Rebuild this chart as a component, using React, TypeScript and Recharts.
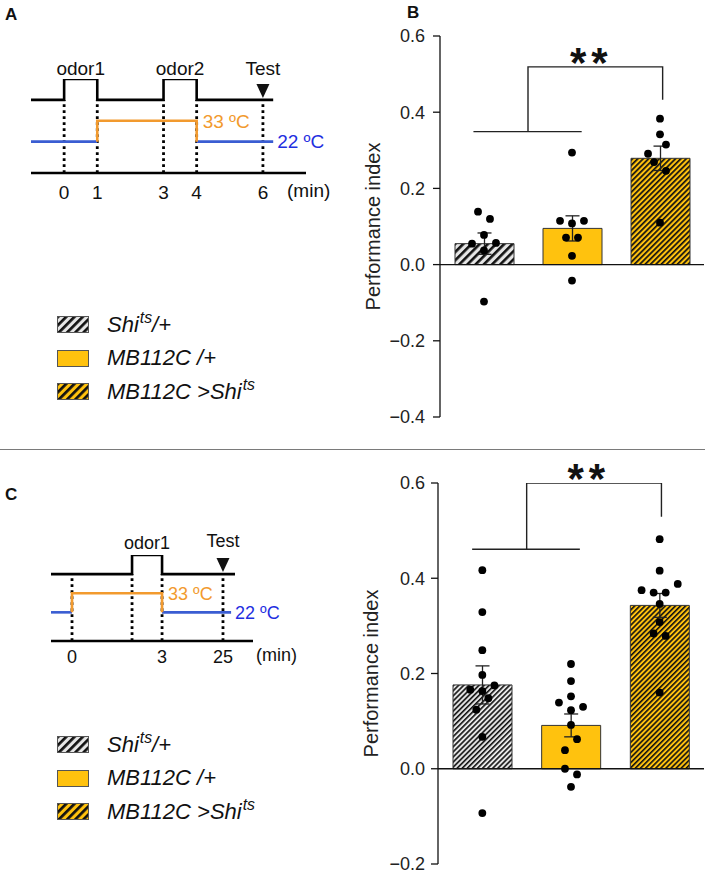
import React from 'react';
import {
  ComposedChart, LineChart, Line, Bar, Cell, ErrorBar, Scatter, XAxis, YAxis,
  ReferenceLine, ReferenceDot, Label, Legend,
} from 'recharts';

const FONT = '"Liberation Sans", Arial, Helvetica, sans-serif';
const GOLD = '#FFC20E';
const GREY = '#e6e6e6';
const HOT = '#F29A2E';
const COLD_LINE = '#3A5DD2';
const COLD_TEXT = '#1f2fe0';

// genotypes (legend + bar order); "^ts" is drawn as superscript
const genotypes = ['Shi^ts/+', 'MB112C /+', 'MB112C >Shi^ts'];

// ---- panel B ----
const meansB = [0.055, 0.095, 0.279];
const semB = [0.028, 0.033, 0.032];
const pointsB = [
  [0.139, 0.12, 0.078, 0.057, 0.055, 0.037, -0.097],
  [0.294, 0.115, 0.115, 0.108, 0.071, 0.071, 0.023, -0.042],
  [0.383, 0.342, 0.315, 0.291, 0.269, 0.246, 0.11],
];
// horizontal jitter, in dot steps
const jitterB = [
  [-1, 1, 0, 2, -2, 0, 0],
  [0, -2, 2, 0, -1, 1, 0, 0],
  [0, 0, 1, -2, -1, 1, 0],
];
const ticksB = [-0.4, -0.2, 0, 0.2, 0.4, 0.6];
const bracketB = { left: -0.12, right: 1.11, stem: 0.5, end: 2.03, low: 0.349, top: 0.519, endLow: 0.433, star: 1.22 };

// ---- panel C ----
const meansC = [0.176, 0.091, 0.343];
const semC = [0.04, 0.024, 0.025];
const pointsC = [
  [0.417, 0.329, 0.249, 0.197, 0.166, 0.175, 0.163, 0.148, 0.124, 0.067, -0.093],
  [0.22, 0.184, 0.152, 0.139, 0.13, 0.123, 0.092, 0.062, 0.039, 0.0, -0.012, -0.038],
  [0.482, 0.416, 0.388, 0.375, 0.37, 0.37, 0.346, 0.308, 0.284, 0.279, 0.16],
];
const jitterC = [
  [0, 0, 0, 0, -2, 2, 0, 1, -1, 0, 0],
  [0, 0, 0, -2, 2, 0, 0, 1, -1, -1, 1, 0],
  [0, 0, 3, -3, -1, 1, 0, 0, -1, 1, 0],
];
const ticksC = [-0.2, 0, 0.2, 0.4, 0.6];
const bracketC = { left: -0.115, right: 1.1, stem: 0.5, end: 2.02, low: 0.461, top: 0.6, endLow: 0.529, star: 1.2 };

const JITTER_STEP = 0.068;

// ---- protocol schematics (minutes) ----
// levels of the schematic traces
const BOTTOM = 0, COLD = 3, WARM = 5, BASE = 7, ODOR = 9;

const protoA = {
  start: -1, end: 6.31, coldEnd: 6.31, axisEnd: 7.3,
  odors: [[0, 1], [3, 4]], odorNames: ['odor1', 'odor2'],
  heat: [1, 4], test: 6, marks: [0, 1, 3, 4, 6],
  ticks: [0, 1, 3, 4, 6], tickLabels: ['0', '1', '3', '4', '6'],
};
// 25 min is drawn at position 5.03 (broken time axis)
const protoC = {
  start: -0.7, end: 5.43, coldEnd: 5.3, axisEnd: 6.03,
  odors: [[2, 3]], odorNames: ['odor1'],
  heat: [0, 3], test: 5.03, marks: [0, 2, 3, 5.03],
  ticks: [0, 3, 5.03], tickLabels: ['0', '3', '25'],
};

type Proto = typeof protoA;

const odorTrace = (p: Proto) => {
  const pts = [{ t: p.start, v: BASE }];
  p.odors.forEach(([a, b]) => {
    pts.push({ t: a, v: BASE }, { t: a, v: ODOR }, { t: b, v: ODOR }, { t: b, v: BASE });
  });
  pts.push({ t: p.end, v: BASE });
  return pts;
};

const TestArrow = (props: any) => {
  const { cx, cy } = props;
  return <polygon points={`${cx - 6.5},${cy - 16} ${cx + 6.5},${cy - 16} ${cx},${cy - 2}`} fill="#111" />;
};

function Protocol({ p, width, height, margin, fontSize, tickMargin, axisHeight, minOffset, odorOffset, testOffset }: any) {
  const heatLine = [
    { t: p.heat[0], v: COLD }, { t: p.heat[0], v: WARM },
    { t: p.heat[1], v: WARM }, { t: p.heat[1], v: COLD },
  ];
  const coldBefore = [{ t: p.start, v: COLD }, { t: p.heat[0], v: COLD }];
  const coldAfter = [{ t: p.heat[1], v: COLD }, { t: p.coldEnd, v: COLD }];
  const trace = { dot: false, activeDot: false, isAnimationActive: false, strokeWidth: 2.6 };
  return (
    <LineChart width={width} height={height} margin={margin}>
      <XAxis
        type="number" dataKey="t" domain={[p.start, p.axisEnd]} allowDataOverflow
        ticks={p.ticks} tickFormatter={(v: number) => p.tickLabels[p.ticks.indexOf(v)]}
        axisLine={{ stroke: '#000', strokeWidth: 2.6 }} tickLine={false}
        tickMargin={tickMargin} height={axisHeight} tick={{ fontSize, fill: '#111' }} interval={0}
      >
        <Label value="(min)" position="right" offset={minOffset} fontSize={fontSize} fill="#111" />
      </XAxis>
      <YAxis type="number" domain={[BOTTOM, ODOR]} hide allowDataOverflow />
      {p.marks.map((t: number) => (
        <ReferenceLine key={t} segment={[{ x: t, y: BOTTOM }, { x: t, y: BASE }]}
          stroke="#000" strokeWidth={2.8} strokeDasharray="2.8 3.2" ifOverflow="visible" />
      ))}
      <Line data={coldBefore} dataKey="v" stroke={COLD_LINE} {...trace} />
      <Line data={coldAfter} dataKey="v" stroke={COLD_LINE} {...trace} />
      <Line data={heatLine} dataKey="v" stroke={HOT} {...trace} />
      <Line data={odorTrace(p)} dataKey="v" stroke="#000" {...trace} />
      {p.odors.map(([a, b]: number[], i: number) => (
        <ReferenceDot key={i} x={(a + b) / 2} y={ODOR} r={0} ifOverflow="visible"
          label={<Label value={p.odorNames[i]} position="top" offset={odorOffset} fontSize={fontSize} fill="#111" />} />
      ))}
      <ReferenceDot x={p.test} y={BASE} r={0} ifOverflow="visible" shape={TestArrow}
        label={<Label value="Test" position="top" offset={testOffset} fontSize={fontSize} fill="#111" />} />
      <ReferenceDot x={p.heat[1]} y={WARM} r={0} ifOverflow="visible"
        label={<Label value="33 ºC" position="right" offset={6} fontSize={fontSize} fill={HOT} />} />
      <ReferenceDot x={p.coldEnd} y={COLD} r={0} ifOverflow="visible"
        label={<Label value="22 ºC" position="right" offset={4} fontSize={fontSize} fill={COLD_TEXT} />} />
    </LineChart>
  );
}

const GenoName = ({ name }: { name: string }) => {
  const parts = name.split('^ts');
  return (
    <span>
      {parts.map((s, i) => (
        <React.Fragment key={i}>
          {s}
          {i < parts.length - 1 && (
            <span style={{ fontSize: '0.72em', position: 'relative', top: '-0.55em', marginLeft: 1 }}>ts</span>
          )}
        </React.Fragment>
      ))}
    </span>
  );
};

function GenotypeLegend({ id }: { id: string }) {
  const fills = [`url(#${id}g)`, GOLD, `url(#${id}o)`];
  return (
    <div style={{ fontFamily: FONT, fontSize: 22, fontStyle: 'italic', color: '#111' }}>
      {genotypes.map((g, i) => (
        <div key={g} style={{ display: 'flex', alignItems: 'center', height: 33.5, whiteSpace: 'nowrap' }}>
          <svg width={32} height={17} style={{ marginRight: 18, flex: 'none' }}>
            <defs>
              <pattern id={`${id}g`} width={5.8} height={5.8} patternUnits="userSpaceOnUse" patternTransform="rotate(45)">
                <rect width={5.8} height={5.8} fill={GREY} />
                <rect width={2.7} height={5.8} fill="#111" />
              </pattern>
              <pattern id={`${id}o`} width={5.8} height={5.8} patternUnits="userSpaceOnUse" patternTransform="rotate(45)">
                <rect width={5.8} height={5.8} fill={GOLD} />
                <rect width={2.7} height={5.8} fill="#111" />
              </pattern>
            </defs>
            <rect x={0.5} y={0.5} width={31} height={16} fill={fills[i]} stroke="#555" strokeWidth={1} />
          </svg>
          <GenoName name={g} />
        </div>
      ))}
    </div>
  );
}

const PointDot = (props: any) => <circle cx={props.cx} cy={props.cy} r={3.9} fill="#000" />;

const fmt = (v: number) => (v < 0 ? '\u2212' : '') + Math.abs(v).toFixed(1);

function BarPanel({ id, means, sems, points, jitter, ticks, bracket, height, margin, yTickMargin, hatchGrey, hatchGold, legendTop }: any) {
  const barData = genotypes.map((g, i) => ({ name: g, pi: means[i], sem: sems[i] }));
  const dots = points.flatMap((vals: number[], i: number) =>
    vals.map((v, k) => ({ x: i + jitter[i][k] * JITTER_STEP, pi: v })));
  const lowLine = [{ x: bracket.left, pi: bracket.low }, { x: bracket.right, pi: bracket.low }];
  const upLine = [
    { x: bracket.stem, pi: bracket.low }, { x: bracket.stem, pi: bracket.top },
    { x: bracket.end, pi: bracket.top }, { x: bracket.end, pi: bracket.endLow },
  ];
  const fills = [`url(#${id}grey)`, GOLD, `url(#${id}gold)`];
  const lineProps = { dot: false, activeDot: false, isAnimationActive: false, stroke: '#222', strokeWidth: 1.4 };
  return (
    <ComposedChart width={709} height={height} data={barData} margin={margin}>
      <defs>
        <pattern id={`${id}grey`} width={hatchGrey[0]} height={hatchGrey[0]} patternUnits="userSpaceOnUse" patternTransform="rotate(45)">
          <rect width={hatchGrey[0]} height={hatchGrey[0]} fill={GREY} />
          <rect width={hatchGrey[1]} height={hatchGrey[0]} fill="#111" />
        </pattern>
        <pattern id={`${id}gold`} width={hatchGold[0]} height={hatchGold[0]} patternUnits="userSpaceOnUse" patternTransform="rotate(45)">
          <rect width={hatchGold[0]} height={hatchGold[0]} fill={GOLD} />
          <rect width={hatchGold[1]} height={hatchGold[0]} fill="#111" />
        </pattern>
      </defs>
      <XAxis xAxisId="cat" dataKey="name" type="category" hide />
      <XAxis type="number" dataKey="x" domain={[-0.5, 2.5]} hide allowDataOverflow />
      <YAxis
        type="number" dataKey="pi" domain={[ticks[0], ticks[ticks.length - 1]]} ticks={ticks} allowDataOverflow
        tickFormatter={fmt} width={134} tickSize={7} tickMargin={yTickMargin} interval={0}
        axisLine={{ stroke: '#111', strokeWidth: 1.3 }} tickLine={{ stroke: '#111', strokeWidth: 1.3 }}
        tick={{ fontSize: 18, fill: '#222' }}
      >
        <Label value="Performance index" angle={-90} position="center" fontSize={20} fill="#222" />
      </YAxis>
      <Bar xAxisId="cat" dataKey="pi" barSize={59} stroke="#333" strokeWidth={1} isAnimationActive={false}>
        {fills.map((f, i) => <Cell key={i} fill={f} />)}
        <ErrorBar dataKey="sem" width={7} stroke="#222" strokeWidth={1.3} direction="y" />
      </Bar>
      <ReferenceLine y={0} stroke="#111" strokeWidth={1.3} />
      <Scatter data={dots} shape={PointDot} isAnimationActive={false} />
      <Line data={lowLine} dataKey="pi" {...lineProps} />
      <Line data={upLine} dataKey="pi" {...lineProps} />
      <ReferenceDot x={bracket.star} y={bracket.top} r={0} ifOverflow="visible"
        label={<Label value="**" position="top" offset={-10} fontSize={42} fontWeight="bold" fill="#111" style={{ letterSpacing: 5 }} />} />
      <Legend layout="vertical" align="center" verticalAlign="middle"
        wrapperStyle={{ left: 57, top: legendTop, width: 270 }}
        content={() => <GenotypeLegend id={`${id}lg`} />} />
    </ComposedChart>
  );
}

const letter = (txt: string, left: number, top: number) => (
  <div style={{ position: 'absolute', left, top, fontSize: 17, fontWeight: 'bold', lineHeight: '17px', color: '#111' }}>{txt}</div>
);

export default function App() {
  return (
    <div style={{ position: 'absolute', left: 0, top: 0, width: 709, height: 876, background: '#fff', fontFamily: FONT, overflow: 'hidden' }}>
      <div style={{ position: 'absolute', left: 0, top: 0 }}>
        <BarPanel id="b" means={meansB} sems={semB} points={pointsB} jitter={jitterB} ticks={ticksB}
          bracket={bracketB} height={430} margin={{ top: 36, right: 5, bottom: 13, left: 306 }} yTickMargin={8}
          hatchGrey={[5.8, 2.6]} hatchGold={[3.8, 1.7]} legendTop={308} />
      </div>
      <div style={{ position: 'absolute', left: 0, top: 0 }}>
        <Protocol p={protoA} width={340} height={210} margin={{ top: 79, left: 31, right: 34, bottom: 3 }}
          fontSize={19} tickMargin={7} axisHeight={34} minOffset={-19} odorOffset={4} testOffset={25} />
      </div>
      <div style={{ position: 'absolute', left: 0, top: 430 }}>
        <BarPanel id="c" means={meansC} sems={semC} points={pointsC} jitter={jitterC} ticks={ticksC}
          bracket={bracketC} height={446} margin={{ top: 53, right: 5, bottom: 12, left: 304 }} yTickMargin={6}
          hatchGrey={[3.6, 1.6]} hatchGold={[3.6, 1.6]} legendTop={298} />
      </div>
      <div style={{ position: 'absolute', left: 0, top: 430 }}>
        <Protocol p={protoC} width={340} height={250} margin={{ top: 125, left: 51, right: 87, bottom: 11 }}
          fontSize={18} tickMargin={3} axisHeight={28} minOffset={3} odorOffset={6} testOffset={27} />
      </div>
      <div style={{ position: 'absolute', left: 0, top: 449, width: 705, borderTop: '1.5px solid #7a7a7a' }} />
      {letter('A', 5, 6)}
      {letter('B', 407, 4)}
      {letter('C', 5, 486)}
    </div>
  );
}
